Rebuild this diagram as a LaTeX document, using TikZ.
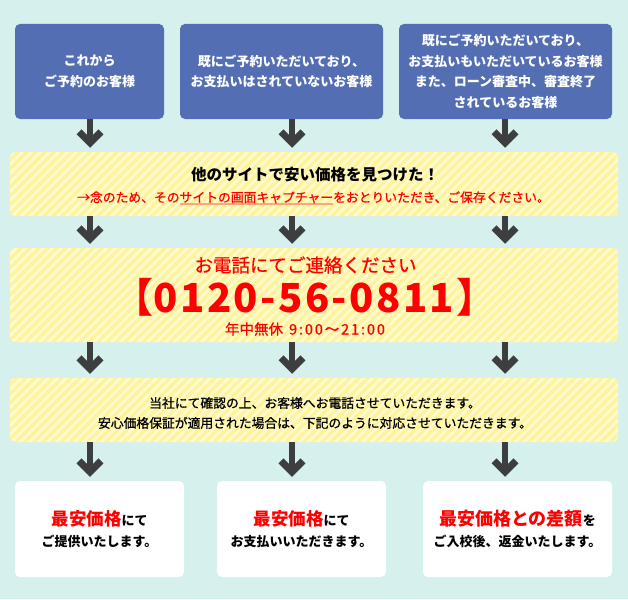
\documentclass[tikz,border=0pt]{standalone}
\usepackage{fontspec}
\setmainfont{Noto Sans CJK JP}
\newfontfamily\jpmed[FakeBold=0.8]{Noto Sans CJK JP}
\usetikzlibrary{calc}
\definecolor{bgmint}{RGB}{214,240,237}
\definecolor{boxblue}{RGB}{84,110,180}
\definecolor{arrgray}{RGB}{60,62,64}
\definecolor{ylight}{RGB}{255,251,208}
\definecolor{ydark}{RGB}{255,243,155}
\definecolor{txtred}{RGB}{255,0,0}
\definecolor{ulcol}{RGB}{255,165,120}
\tikzset{
  bluebox/.style={fill=boxblue, rounded corners=5pt, text=white, align=center, inner sep=0pt,
    font=\bfseries\fontsize{13}{20.5}\selectfont},
  yellowbox/.style={fill=ylight, rounded corners=5pt, inner sep=0pt},
  whitebox/.style={fill=white, rounded corners=5pt, align=center, inner sep=0pt,
    font=\bfseries\fontsize{13}{21}\selectfont},
  shaft/.style={draw=arrgray, line width=6.5pt},
  arrhead/.style={draw=arrgray, line width=7pt, line join=miter, line cap=butt},
  stripe/.style={draw=ydark, line width=3.3pt},
  txtlabel/.style={inner sep=0pt, align=center}
}
\newcommand\flowarrow[3]{%
  \draw[shaft] (#1.south -| #3) -- ($(#2.north -| #3)+(0,-9)$);
  \draw[arrhead] ($(#2.north -| #3)+(-11,-20)$) -- ($(#2.north -| #3)+(0,-9)$) -- ($(#2.north -| #3)+(11,-20)$);
}
\begin{document}
\begin{tikzpicture}[x=1pt,y=-1pt]
\fill[bgmint] (0,0) rectangle (628,599);
\useasboundingbox (0,0) rectangle (628,599);

% top blue boxes
\node[bluebox, minimum width=149pt, minimum height=95pt] (t1) at (89.5,71.5) {これから\\ご予約のお客様};
\node[bluebox, minimum width=203pt, minimum height=95pt] (t2) at (281.5,71.5) {既にご予約いただいており、\\お支払いはされていないお客様};
\node[bluebox, minimum width=213pt, minimum height=95pt] (t3) at (505.5,71.5) {既にご予約いただいており、\\お支払いもいただいているお客様\\また、ローン審査中、審査終了\\されているお客様};

% yellow boxes
\node[yellowbox, minimum width=608pt, minimum height=64pt] (y1) at (314,184) {};
\node[yellowbox, minimum width=608pt, minimum height=94pt] (y2) at (314,295) {};
\node[yellowbox, minimum width=608pt, minimum height=64pt] (y3) at (314,410) {};
\begin{scope}
  \clip[rounded corners=5pt] (y1.north west) rectangle (y1.south east)
                             (y2.north west) rectangle (y2.south east)
                             (y3.north west) rectangle (y3.south east);
  \foreach \x in {-460,-451,...,640} \draw[stripe] (\x,450) -- ++(450,-450);
\end{scope}

% yellow box texts
\node[txtlabel, font=\bfseries\fontsize{15.5}{18}\selectfont] (y1a) at (315,175) {他のサイトで安い価格を見つけた！};
\node[txtlabel, text=txtred, font=\jpmed\fontsize{12.8}{15}\selectfont] (y1b) at (313.5,198)
  {→念のため、その\makebox[0pt][l]{\color{ulcol}\rule[-2.5pt]{12em}{1.5pt}}サイトの画面キャプチャーをおとりいただき、ご保存ください。};
\node[txtlabel, text=txtred, font=\jpmed\fontsize{18.5}{20}\selectfont] (y2a) at (305.5,265) {お電話にてご連絡ください};
\node[txtlabel, text=txtred, font=\bfseries\fontsize{40}{42}\selectfont] (y2b) at (305,297) {【\addfontfeature{LetterSpace=6}0120-56-0811】};
\node[txtlabel, text=txtred, font=\jpmed\fontsize{14.5}{16}\selectfont] (y2c) at (305,329) {年中無休\hspace{6pt}{\addfontfeature{LetterSpace=13}9:00～21:00}};
\node[txtlabel, font=\jpmed\fontsize{12.8}{20}\selectfont] (y3a) at (315,413)
  {当社にて確認の上、お客様へお電話させていただきます。\\安心価格保証が適用された場合は、下記のように対応させていただきます。};

% bottom white boxes
\node[whitebox, minimum width=169pt, minimum height=96pt] (b1) at (99.5,529)
  {{\color{txtred}\fontsize{17.5}{21}\selectfont 最安価格}にて\\ご提供いたします。};
\node[whitebox, minimum width=169pt, minimum height=96pt] (b2) at (301.5,529)
  {{\color{txtred}\fontsize{17.5}{21}\selectfont 最安価格}にて\\お支払いいただきます。};
\node[whitebox, minimum width=189pt, minimum height=96pt] (b3) at (517.5,529)
  {{\color{txtred}\fontsize{18}{21}\selectfont 最安価格との差額}を\\ご入校後、返金いたします。};

% arrow columns
\coordinate (c1) at (90,0);
\coordinate (c2) at (292,0);
\coordinate (c3) at (505,0);

\flowarrow{t1}{y1}{c1}
\flowarrow{t2}{y1}{c2}
\flowarrow{t3}{y1}{c3}
\flowarrow{y1}{y2}{c1}
\flowarrow{y1}{y2}{c2}
\flowarrow{y1}{y2}{c3}
\flowarrow{y2}{y3}{c1}
\flowarrow{y2}{y3}{c2}
\flowarrow{y2}{y3}{c3}
\flowarrow{y3}{b1}{c1}
\flowarrow{y3}{b2}{c2}
\flowarrow{y3}{b3}{c3}
\end{tikzpicture}
\end{document}
